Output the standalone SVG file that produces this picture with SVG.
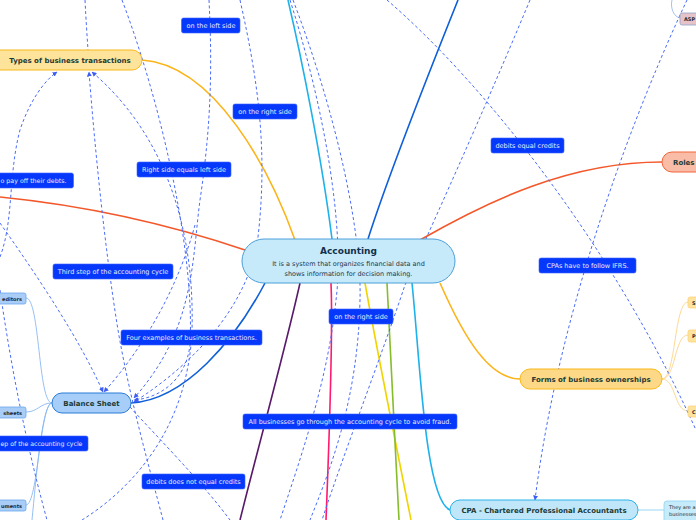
<svg xmlns="http://www.w3.org/2000/svg" width="696" height="520" viewBox="0 0 696 520">
<defs>
<marker id="arr" viewBox="0 0 10 10" refX="9" refY="5" markerWidth="5" markerHeight="5" orient="auto-start-reverse" markerUnits="userSpaceOnUse">
<path d="M0,0 L10,5 L0,10 z" fill="#3d5ef5"/>
</marker>
<style>
.main{fill:none;stroke-width:1.6}
.sub{fill:none;stroke-width:0.9}
.rel{fill:none;stroke:#4a6cf5;stroke-width:1;stroke-dasharray:3 2.5}
.node text,.lbl text{font-family:"DejaVu Sans",Verdana,sans-serif}
.nt{font-weight:bold;font-size:7px;fill:#1d3a36;text-anchor:middle}
.st{font-weight:bold;font-size:5px;fill:#1d2a36}
.lbl rect{fill:#0638fb;stroke:#3a62ff;stroke-width:0.6}
.lbl text{font-size:6.5px;fill:#e6ecff;text-anchor:middle}
</style>
</defs>
<rect width="696" height="520" fill="#ffffff"/>
<g id="connectors">
<path class="main" stroke="#fbb41a" d="M295,240 C270,170 215,65 142,60"/>
<path class="main" stroke="#f4572a" d="M420,240 C490,200 570,162 662,162"/>
<path class="main" stroke="#f4572a" d="M0,197 C100,207 180,228 245,250"/>
<path class="main" stroke="#fbb41a" d="M440,283 C465,340 490,379 520,379"/>
<path class="main" stroke="#1fb1ea" d="M332,239 C322,160 302,60 288,0"/>
<path class="main" stroke="#0f5fd8" d="M368,239 C390,170 430,70 458,0"/>
<path class="main" stroke="#0f5fd8" d="M265,283 C235,340 185,400 131,403"/>
<path class="main" stroke="#5a1a6a" d="M300,283 C285,350 260,440 240,520"/>
<path class="main" stroke="#ff1a70" d="M331,283 C333,330 330,420 326,520"/>
<path class="main" stroke="#f0d400" d="M365,283 C375,340 395,440 411,520"/>
<path class="main" stroke="#86bd2a" d="M387,283 C390,350 395,440 399,520"/>
<path class="main" stroke="#1fb1ea" d="M412,283 C420,360 425,500 450,510"/>
<path class="sub" stroke="#8ab8f0" d="M52,403 C38,403 40,298 26,298"/>
<path class="sub" stroke="#8ab8f0" d="M52,403 C40,403 38,412 26,412"/>
<path class="sub" stroke="#8ab8f0" d="M52,403 C40,403 38,505 26,505"/>
<path class="sub" stroke="#8ab8f0" d="M52,403 C42,403 36,480 32,520"/>
<path class="sub" stroke="#fdd58a" d="M662,379 C676,379 674,302 688,302"/>
<path class="sub" stroke="#fdd58a" d="M662,379 C676,379 674,335 688,335"/>
<path class="sub" stroke="#fdd58a" d="M662,379 C676,379 674,411 688,411"/>
<path class="sub" stroke="#8dd3f3" d="M638,510 L664,510"/>
<path class="sub" stroke="#9bbbe6" d="M672,0 C670,8 674,17 680,18"/>
<path class="rel" d="M85,0 C86,20 87,35 88,50"/>
<path class="rel" d="M122,0 C160,100 195,250 190,345 C186,380 160,398 134,400" marker-end="url(#arr)"/>
<path class="rel" d="M163,520 C150,470 130,400 118,330 C105,250 95,150 89,72" marker-end="url(#arr)"/>
<path class="rel" d="M82,520 C130,490 188,430 192,330 C195,220 160,130 92,72" marker-end="url(#arr)"/>
<path class="rel" d="M209,0 C212,60 212,120 200,200 C192,260 195,330 134,398" marker-end="url(#arr)"/>
<path class="rel" d="M240,0 C258,80 268,150 258,237 C250,300 200,360 134,402" marker-end="url(#arr)"/>
<path class="rel" d="M195,225 C180,280 150,340 104,392" marker-end="url(#arr)"/>
<path class="rel" d="M0,223 C40,280 80,340 103,392" marker-end="url(#arr)"/>
<path class="rel" d="M0,290 C10,360 25,440 47,520"/>
<path class="rel" d="M0,257 C14,220 8,175 20,130 C30,100 45,80 57,72" marker-end="url(#arr)"/>
<path class="rel" d="M130,407 C160,440 200,480 230,520"/>
<path class="rel" d="M290,0 C325,110 345,230 336,300 C328,380 300,460 280,520"/>
<path class="rel" d="M293,0 C335,110 362,230 360,300 C358,400 330,470 310,520"/>
<path class="rel" d="M530,0 C480,120 430,230 405,285 C380,360 345,450 322,520"/>
<path class="rel" d="M387,0 C480,80 610,240 696,430"/>
<path class="rel" d="M687,0 C640,100 560,300 535,500" marker-end="url(#arr)"/>
</g>
<g id="accounting" class="node">
<rect x="242" y="239" width="213" height="44" rx="22" fill="#c7eafb" stroke="#4a9fd8" stroke-width="1"/>
<text x="348.5" y="254" font-size="9" font-weight="bold" fill="#12304a" text-anchor="middle">Accounting</text>
<text x="348.5" y="266" font-size="6.5" fill="#23384a" text-anchor="middle">It is a system that organizes financial data and</text>
<text x="348.5" y="276" font-size="6.5" fill="#23384a" text-anchor="middle">shows information for decision making.</text>
</g>
<g id="types" class="node">
<rect x="-10" y="50" width="152" height="20" rx="10" fill="#fee39a" stroke="#f9b918" stroke-width="1"/>
<text class="nt" x="70" y="63">Types of business transactions</text>
</g>
<g id="roles" class="node">
<rect x="662" y="152" width="50" height="20" rx="10" fill="#f9bca6" stroke="#f2643a" stroke-width="1"/>
<text class="nt" x="673" y="165" style="text-anchor:start">Roles</text>
</g>
<g id="forms" class="node">
<rect x="520" y="369" width="142" height="20" rx="10" fill="#fdd987" stroke="#f9b918" stroke-width="1"/>
<text class="nt" x="591" y="382">Forms of business ownerships</text>
</g>
<g id="cpa" class="node">
<rect x="450" y="500" width="188" height="20" rx="10" fill="#bfe7f9" stroke="#2ab2e8" stroke-width="1"/>
<text class="nt" x="544" y="513">CPA - Chartered Professional Accountants</text>
</g>
<g id="balance" class="node">
<rect x="52" y="393" width="79" height="20" rx="10" fill="#a7cef8" stroke="#2b7bd8" stroke-width="1"/>
<text class="nt" x="91.5" y="406">Balance Sheet</text>
</g>
<g id="creditors" class="node">
<rect x="-10" y="293" width="36" height="11" rx="2" fill="#a9cdf7" stroke="#6aa7ee" stroke-width="0.8"/>
<text class="st" x="22" y="300.5" text-anchor="end">editors</text>
</g>
<g id="sheets" class="node">
<rect x="-10" y="407" width="36" height="11" rx="2" fill="#a9cdf7" stroke="#6aa7ee" stroke-width="0.8"/>
<text class="st" x="22" y="414.5" text-anchor="end">sheets</text>
</g>
<g id="documents" class="node">
<rect x="-10" y="500" width="36" height="11" rx="2" fill="#a9cdf7" stroke="#6aa7ee" stroke-width="0.8"/>
<text class="st" x="22" y="507.5" text-anchor="end">uments</text>
</g>
<g id="aspe" class="node">
<rect x="680" y="13" width="30" height="12" rx="2" fill="#e6c3c8" stroke="#8fa3cc" stroke-width="0.8"/>
<text class="st" x="684" y="21">ASP</text>
</g>
<g id="own-s" class="node">
<rect x="688" y="297" width="20" height="11" rx="2" fill="#fde3a0" stroke="#fcd27a" stroke-width="0.8"/>
<text class="st" x="692" y="304.5">S</text>
</g>
<g id="own-p" class="node">
<rect x="688" y="330" width="20" height="12" rx="2" fill="#fde3a0" stroke="#fcd27a" stroke-width="0.8"/>
<text class="st" x="692" y="338">P</text>
</g>
<g id="own-c" class="node">
<rect x="688" y="406" width="20" height="11" rx="2" fill="#fde3a0" stroke="#fcd27a" stroke-width="0.8"/>
<text class="st" x="692" y="413.5">C</text>
</g>
<g id="cpa-note" class="node">
<rect x="664" y="501" width="44" height="24" rx="3" fill="#c6ebfb" stroke="#8dd3f3" stroke-width="0.8"/>
<text x="669" y="509" font-size="5" fill="#1d2a36">They are a</text>
<text x="669" y="516" font-size="5" fill="#1d2a36">businesses</text>
</g>
<g id="labels">
<g class="lbl"><rect x="181.5" y="18" width="58.5" height="15" rx="2"/><text x="211" y="28">on the left side</text></g>
<g class="lbl"><rect x="233" y="104" width="64" height="15" rx="2"/><text x="265" y="114">on the right side</text></g>
<g class="lbl"><rect x="137" y="162" width="94" height="15" rx="2"/><text x="184" y="172">Right side equals left side</text></g>
<g class="lbl"><rect x="-10" y="173" width="83.5" height="15" rx="2"/><text x="0.5" y="183" style="text-anchor:start;font-size:6.3px">o pay off their debts.</text></g>
<g class="lbl"><rect x="491" y="138" width="73" height="15" rx="2"/><text x="527.5" y="148">debits equal credits</text></g>
<g class="lbl"><rect x="53" y="264" width="120" height="15" rx="2"/><text x="113" y="274">Third step of the accounting cycle</text></g>
<g class="lbl"><rect x="539" y="258" width="97" height="15" rx="2"/><text x="587.5" y="268">CPAs have to follow IFRS.</text></g>
<g class="lbl"><rect x="329" y="309" width="64" height="15" rx="2"/><text x="361" y="319">on the right side</text></g>
<g class="lbl"><rect x="121" y="330" width="141" height="15" rx="2"/><text x="191.5" y="340">Four examples of business transactions.</text></g>
<g class="lbl"><rect x="-10" y="436" width="98" height="15" rx="2"/><text x="0.5" y="446" style="text-anchor:start;font-size:6.2px">ep of the accounting cycle</text></g>
<g class="lbl"><rect x="243" y="414" width="214" height="15" rx="2"/><text x="350" y="424">All businesses go through the accounting cycle to avoid fraud.</text></g>
<g class="lbl"><rect x="142" y="474" width="103" height="15" rx="2"/><text x="193.5" y="484">debits does not equal credits</text></g>
</g>
</svg>
